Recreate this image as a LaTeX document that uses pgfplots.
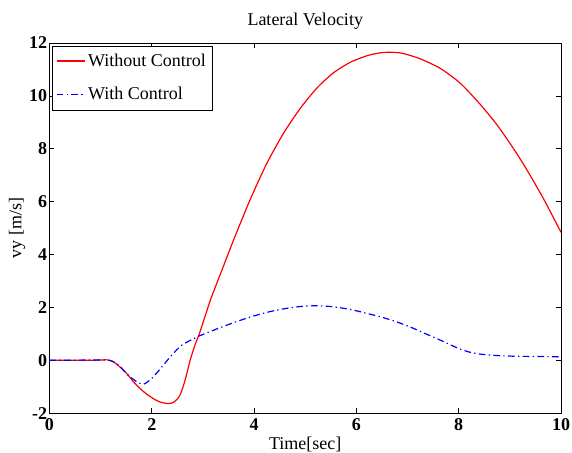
\documentclass[border=0pt]{standalone}
\usepackage{fontspec}
\setmainfont{Liberation Serif}
\usepackage{pgfplots}
\pgfplotsset{compat=1.18}

% lateral velocity
\pgfplotstableread{
t vy
0.00 0.00
0.50 0.00
0.89 0.00
1.15 0.01
1.28 -0.10
1.48 -0.44
1.67 -0.88
1.87 -1.24
2.06 -1.49
2.16 -1.58
2.26 -1.63
2.34 -1.64
2.42 -1.60
2.50 -1.47
2.55 -1.33
2.60 -1.08
2.65 -0.76
2.70 -0.39
2.75 0.00
2.85 0.60
2.93 1.00
3.04 1.65
3.17 2.40
3.40 3.55
3.60 4.55
3.92 6.06
4.25 7.45
4.58 8.60
4.90 9.52
5.23 10.30
5.55 10.87
5.88 11.27
6.21 11.52
6.47 11.63
6.67 11.65
6.90 11.61
7.25 11.40
7.64 11.04
8.03 10.48
8.42 9.68
8.75 8.90
9.08 7.98
9.34 7.18
9.66 6.10
10.00 4.84
}\nocontrol

\pgfplotstableread{
t vy
0.00 0.00
0.50 0.00
1.15 0.00
1.35 -0.19
1.54 -0.57
1.71 -0.82
1.84 -0.91
2.00 -0.69
2.20 -0.25
2.39 0.19
2.59 0.57
2.91 0.90
3.27 1.18
3.60 1.42
3.92 1.63
4.25 1.81
4.57 1.94
4.90 2.03
5.23 2.06
5.55 2.02
5.95 1.89
6.47 1.64
6.80 1.44
7.12 1.20
7.40 0.96
7.64 0.76
7.85 0.57
8.03 0.42
8.20 0.31
8.42 0.23
8.70 0.18
9.08 0.15
9.50 0.14
10.00 0.13
}\withcontrol

\begin{document}
\begin{tikzpicture}[x=1pt,y=1pt]
\begin{axis}[
    name=ax,
    scale only axis,
    width=383.6pt, height=277.5pt,
    xmin=0, xmax=10, ymin=-2, ymax=12,
    xtick={0,2,...,10},
    ytick={-2,0,...,12},
    tick align=inside,
    major tick length=3.75pt,
    tick style={black, line width=0.5pt},
    axis line style={line width=0.6pt},
    font=\fontsize{13.5}{16}\selectfont,
    /pgf/number format/assume math mode=true,
    ticklabel style={font=\fontsize{13.5}{16}\selectfont\bfseries},
    yticklabel style={inner sep=1.5pt},
    xticklabel style={inner sep=4pt},
    title={Lateral Velocity},
    title style={yshift=1pt},
    xlabel={Time[sec]},
    ylabel={vy [m/s]},
    xlabel style={yshift=2.5pt},
    ylabel style={yshift=-2pt},
    legend style={at={(0,1)}, anchor=north west, xshift=1.7pt, yshift=-2.3pt,
        inner xsep=3pt, inner ysep=4pt,
        row sep=10pt, font=\fontsize{13.5}{16}\selectfont},
    legend cell align=left,
    legend image code/.code={\draw[line width=1pt,#1] plot coordinates {(0pt,0.4pt) (21pt,0.4pt)};},
    clip=true,
]
\addplot[red, line width=0.9pt, smooth, tension=0.4] table[x=t, y=vy] {\nocontrol};
\addlegendentry{Without Control}
\addplot[blue, line width=0.9pt, smooth, tension=0.4,
    dash pattern=on 5pt off 2.5pt on 1pt off 2.5pt] table[x=t, y=vy] {\withcontrol};
\addlegendentry{With Control}
\end{axis}
% fix the page to the reference's margins
\pgfresetboundingbox
\path (ax.south west) ++(-37.1pt,-29.25pt) coordinate (bbA);
\path (ax.north east) ++(8.25pt,32.25pt) coordinate (bbB);
\useasboundingbox (bbA) rectangle (bbB);
\end{tikzpicture}
\end{document}
